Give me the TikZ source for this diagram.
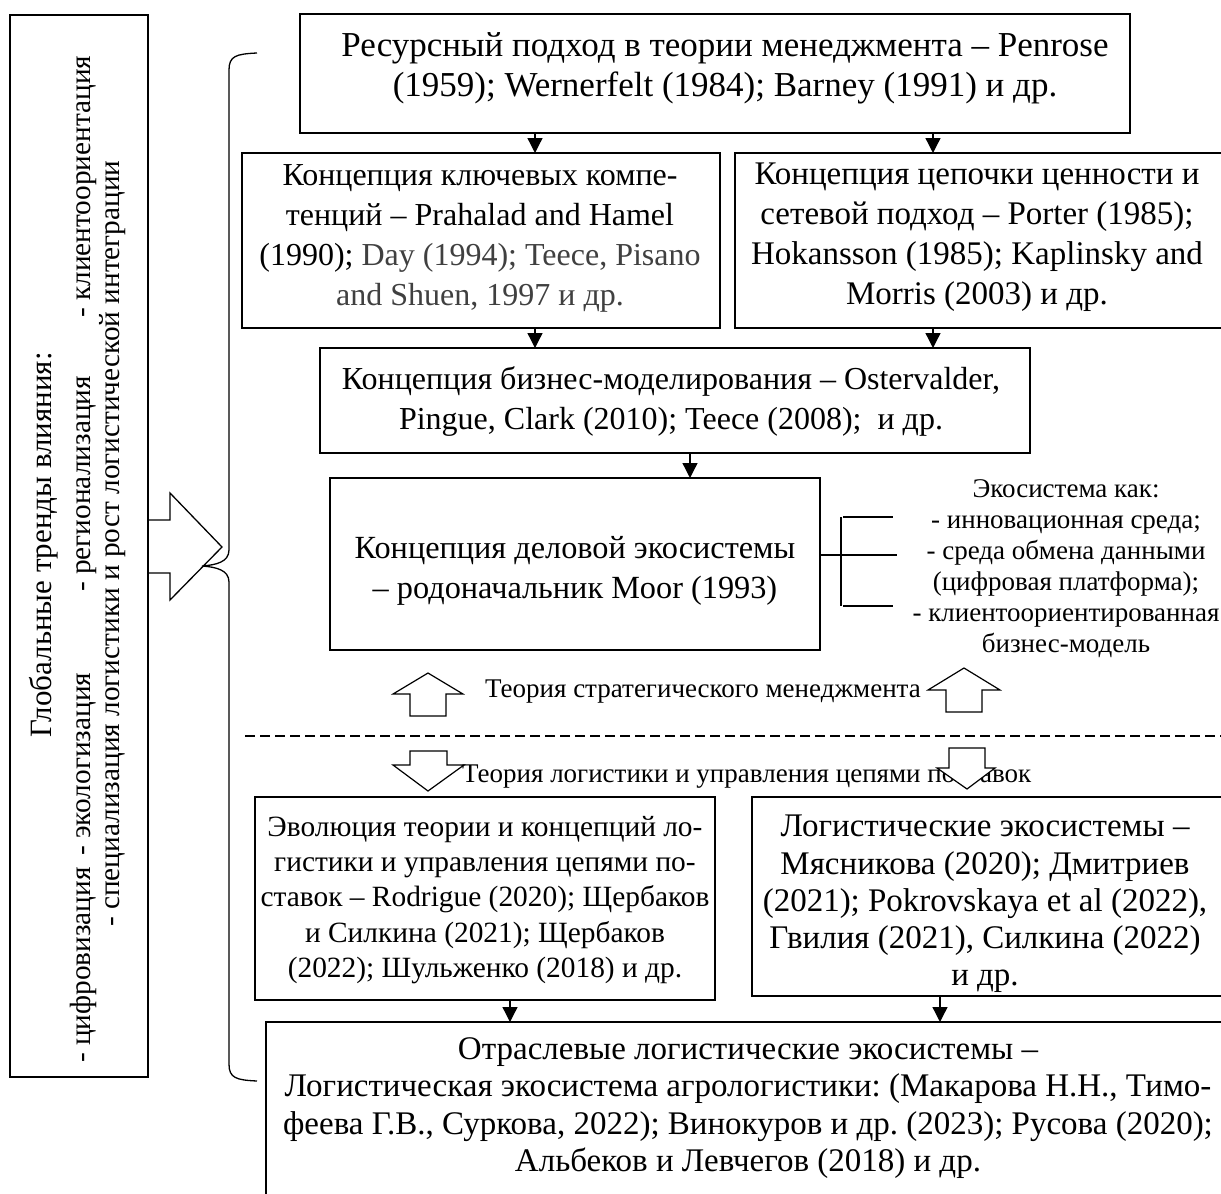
\documentclass[tikz,border=0pt]{standalone}
\usepackage{fontspec}
\setmainfont{Liberation Serif}
\usetikzlibrary{arrows.meta}
\frenchspacing
\begin{document}
\begin{tikzpicture}[x=1pt,y=-1pt,
  frame/.style={draw, line width=1.3pt, outer sep=0pt, inner sep=0pt, anchor=north west},
  txt/.style={align=center, inner sep=0pt},
  small/.style={font=\fontsize{27}{31}\selectfont, align=center, inner sep=0pt},
  side/.style={font=\fontsize{29.3}{35}\selectfont, rotate=90, inner sep=0pt},
  arr/.style={line width=1.3pt, -{Triangle[length=15pt,width=15pt]}},
  thin/.style={line width=1.3pt},
  hollow/.style={draw, line width=1.2pt, fill=white, line join=miter}]
\useasboundingbox (0,0) rectangle (1221,1194);
\clip (0,0) rectangle (1221,1194);

% --- left panel: global trends ---
\node[frame, minimum width=138pt, minimum height=1062pt] (trends) at (10,15) {};
\node[side, anchor=mid, font=\fontsize{31}{35}\selectfont] (t1) at (49,545) {Глобальные тренды влияния:};
\node[side, anchor=mid west] (t2a) at (88,1063) {- цифровизация};
\node[side, anchor=mid west] (t2b) at (88,856) {- экологизация};
\node[side, anchor=mid west] (t2c) at (88,592) {- регионализация};
\node[side, anchor=mid west] (t2d) at (88,318) {- клиентоориентация};
\node[side, anchor=mid west] (t3) at (117,927) {- специализация логистики и рост логистической интеграции};

% block arrow from the trends panel into the brace
\draw[thin, line join=miter] (trends.east |- 0,520) -- (170,520) -- (170,493) -- (222,547)
  -- (170,600) -- (170,573) -- (trends.east |- 0,573);

% brace grouping the right-hand column
\draw[thin] (257,53) .. controls (236,54) and (229,56) .. (229,70) -- (229,550)
  .. controls (229,562) and (216,565) .. (202,566)
  .. controls (216,567) and (229,570) .. (229,582) -- (229,1064)
  .. controls (229,1078) and (236,1080) .. (257,1081);

% --- management theory boxes ---
\node[frame, minimum width=830pt, minimum height=119pt] (res) at (300,14) {};
\node[txt, font=\fontsize{35}{40}\selectfont] (rest) at (725,68) {Ресурсный подход в теории менеджмента – Penrose\\(1959); Wernerfelt (1984); Barney (1991) и др.};

\node[frame, minimum width=478pt, minimum height=175pt] (comp) at (242,153) {};
\node[txt, font=\fontsize{32}{40}\selectfont] (compt) at (480,238) {Концепция ключевых компе-\\тенций – Prahalad and Hamel\\(1990); \textcolor{black!75}{Day (1994); Teece, Pisano}\\\textcolor{black!75}{and Shuen, 1997 и др.}};

\node[frame, minimum width=520pt, minimum height=175pt] (chain) at (735,153) {};
\node[txt, font=\fontsize{33}{40}\selectfont] (chaint) at (977,237) {Концепция цепочки ценности и\\сетевой подход – Porter (1985);\\Hokansson (1985); Kaplinsky and\\Morris (2003) и др.};

\node[frame, minimum width=710pt, minimum height=105pt] (bm) at (320,348) {};
\node[txt, font=\fontsize{32}{40}\selectfont] (bmt) at (671,401) {Концепция бизнес-моделирования – Ostervalder,\\Pingue, Clark (2010); Teece (2008);~ и др.};

\node[frame, minimum width=490pt, minimum height=172pt] (eco) at (330,478) {};
\node[txt, font=\fontsize{32.3}{40}\selectfont] (ecot) at (575,571) {Концепция деловой экосистемы\\– родоначальник Moor (1993)};

\draw[arr] (535,0 |- res.south) -- (535,0 |- comp.north);
\draw[arr] (933,0 |- res.south) -- (933,0 |- chain.north);
\draw[arr] (535,0 |- comp.south) -- (535,0 |- bm.north);
\draw[arr] (933,0 |- chain.south) -- (933,0 |- bm.north);
\draw[arr] (690,0 |- bm.south) -- (690,0 |- eco.north);

% ecosystem aspects
\node[small] (aspects) at (1066,569) {Экосистема как:\\- инновационная среда;\\- среда обмена данными\\(цифровая платформа);\\- клиентоориентированная\\бизнес-модель};
\coordinate (hE) at (897,555);
\draw[thin] (eco.east |- hE) -- (hE);
\draw[thin] (841,517) -- (841,606);
\draw[thin] (843,517) -- (893,517);
\draw[thin] (843,606) -- (893,606);

% --- theory split ---
\node[small, anchor=base west] (strat) at (485,697) {Теория стратегического менеджмента};
\draw[hollow] (428,673) -- (463,694) -- (446,694) -- (446,716) -- (410,716) -- (410,694) -- (393,694) -- cycle;
\draw[hollow] (964,668) -- (1000,690) -- (982,690) -- (982,712) -- (946,712) -- (946,690) -- (928,690) -- cycle;

\draw[line width=1.2pt, dash pattern=on 10pt off 5pt] (245,736) -- (1221,736);

\node[small, anchor=base west] (logi) at (462,782) {Теория логистики и управления цепями поставок};
\draw[hollow] (428,791) -- (464,765) -- (447,765) -- (447,751) -- (410,751) -- (410,765) -- (393,765) -- cycle;
\draw[hollow] (967,789) -- (995,768) -- (985,768) -- (985,748) -- (949,748) -- (949,768) -- (937,768) -- cycle;

% --- logistics boxes ---
\node[frame, minimum width=460pt, minimum height=203pt] (evo) at (255,797) {};
\node[txt, font=\fontsize{29.4}{35.3}\selectfont] (evot) at (485,900) {Эволюция теории и концепций ло-\\гистики и управления цепями по-\\ставок – Rodrigue (2020); Щербаков\\и Силкина (2021); Щербаков\\(2022); Шульженко (2018) и др.};

\node[frame, minimum width=500pt, minimum height=199pt] (lec) at (752,797) {};
\node[txt, font=\fontsize{33}{37.3}\selectfont] (lect) at (985,904) {Логистические экосистемы –\\Мясникова (2020); Дмитриев\\(2021); Pokrovskaya et al (2022),\\Гвилия (2021), Силкина (2022)\\и др.};

\node[frame, minimum width=990pt, minimum height=200pt] (ind) at (266,1022) {};
\node[txt, font=\fontsize{33}{37.5}\selectfont] (indt) at (748,1108) {Отраслевые логистические экосистемы –\\Логистическая экосистема агрологистики: (Макарова Н.Н., Тимо-\\феева Г.В., Суркова, 2022); Винокуров и др. (2023); Русова (2020);\\Альбеков и Левчегов (2018) и др.};

\draw[arr] (510,0 |- evo.south) -- (510,0 |- ind.north);
\draw[arr] (940,0 |- lec.south) -- (940,0 |- ind.north);
\end{tikzpicture}
\end{document}
